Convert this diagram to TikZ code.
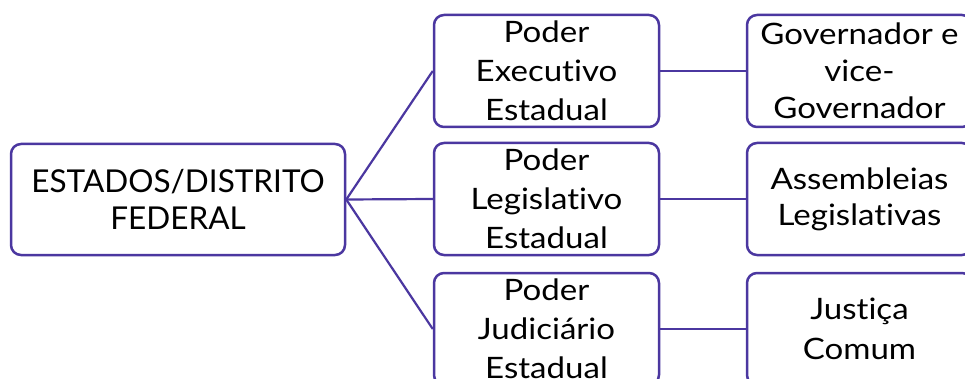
\documentclass[tikz,border=0pt]{standalone}
\usepackage{fontspec}
\setmainfont{Lato}[Ligatures={NoCommon,NoRare,NoDiscretionary}]
\newfontfamily\widefont{Lato}[FakeStretch=1.12,Ligatures={NoCommon,NoRare,NoDiscretionary}]
\definecolor{boxline}{HTML}{4B37A0}
\begin{document}
\begin{tikzpicture}[x=1pt,y=-1pt,
  box/.style={draw=boxline,line width=2.5pt,rounded corners=10pt,fill=white,
    align=center,inner sep=0pt,font=\widefont\fontsize{29.5}{39}\selectfont},
  link/.style={draw=boxline,line width=2.2pt}]
\useasboundingbox (0,0) rectangle (965,379);
\node[box,minimum width=334pt,minimum height=111pt,font=\rmfamily\fontsize{31.5}{37}\selectfont] (root) at (178,199.5) {ESTADOS/DISTRITO\\FEDERAL};
\node[box,minimum width=225pt,minimum height=112pt] (exe) at (546.5,71) {Poder\\Executivo\\Estadual};
\node[box,minimum width=225pt,minimum height=112pt] (leg) at (546.5,199) {Poder\\Legislativo\\Estadual};
\node[box,minimum width=225pt,minimum height=112pt] (jud) at (546.5,329) {Poder\\Judiciário\\Estadual};
\node[box,minimum width=225pt,minimum height=112pt,font=\widefont\fontsize{29.5}{37}\selectfont] (gov) at (859.5,71) {Governador e\\vice-\\Governador};
\node[box,minimum width=225pt,minimum height=112pt,font=\widefont\fontsize{29.5}{36}\selectfont] (ass) at (859.5,199) {Assembleias\\Legislativas};
\node[box,minimum width=225pt,minimum height=112pt,font=\widefont\fontsize{29.5}{40}\selectfont] (jus) at (859.5,329) {Justiça\\Comum};
\draw[link] (root.east) -- (exe.west);
\draw[link] (root.east) -- (leg.west);
\draw[link] (root.east) -- (jud.west);
\draw[link] (exe.east) -- (gov.west);
\draw[link] (leg.east) -- (ass.west);
\draw[link] (jud.east) -- (jus.west);
\end{tikzpicture}
\end{document}
